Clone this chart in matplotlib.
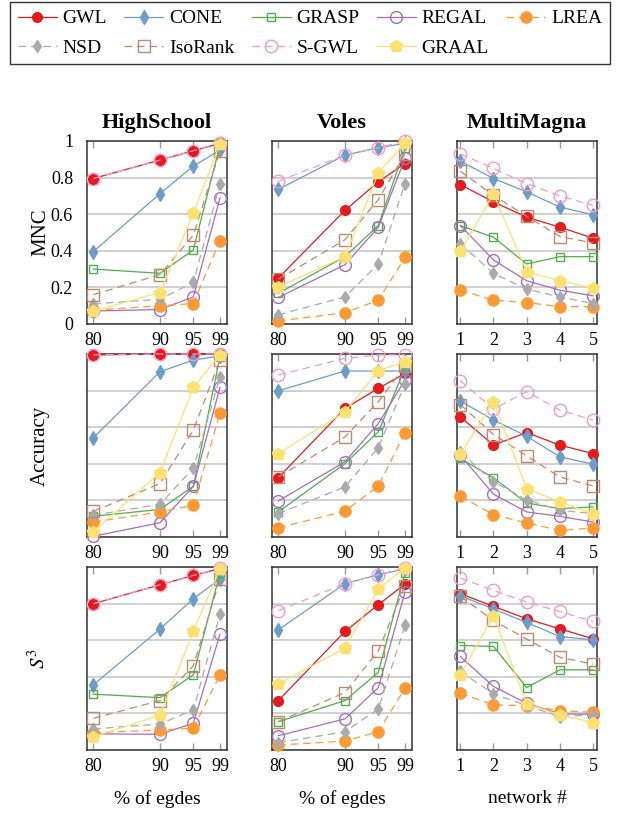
import matplotlib
matplotlib.use("Agg")
import matplotlib.pyplot as plt
import numpy as np

plt.rcParams['font.family'] = ['Liberation Serif', 'DejaVu Serif']
plt.rcParams['mathtext.fontset'] = 'stix'

methods = ['GWL', 'CONE', 'GRASP', 'REGAL', 'LREA', 'NSD', 'IsoRank', 'S-GWL', 'GRAAL']
pct_edges = [80, 90, 95, 99]
networks = [1, 2, 3, 4, 5]

# MNC
hs_mnc = {
    'GWL': [0.795, 0.896, 0.947, 0.987],
    'CONE': [0.396, 0.712, 0.863, 0.950],
    'GRASP': [0.300, 0.277, 0.405, 0.978],
    'REGAL': [0.071, 0.079, 0.148, 0.690],
    'LREA': [0.075, 0.100, 0.112, 0.456],
    'NSD': [0.110, 0.135, 0.227, 0.767],
    'IsoRank': [0.160, 0.270, 0.485, 0.947],
    'S-GWL': [0.795, 0.896, 0.947, 0.990],
    'GRAAL': [0.071, 0.172, 0.606, 0.983],
}
voles_mnc = {
    'GWL': [0.251, 0.621, 0.777, 0.877],
    'CONE': [0.736, 0.923, 0.963, 0.987],
    'GRASP': [0.168, 0.368, 0.538, 0.960],
    'REGAL': [0.145, 0.324, 0.529, 0.905],
    'LREA': [0.016, 0.062, 0.130, 0.364],
    'NSD': [0.050, 0.148, 0.328, 0.767],
    'IsoRank': [0.245, 0.460, 0.680, 0.930],
    'S-GWL': [0.780, 0.923, 0.963, 1.000],
    'GRAAL': [0.203, 0.368, 0.826, 0.987],
}
mm_mnc = {
    'GWL': [0.762, 0.667, 0.584, 0.529, 0.469],
    'CONE': [0.890, 0.795, 0.722, 0.639, 0.597],
    'GRASP': [0.538, 0.474, 0.328, 0.368, 0.368],
    'REGAL': [0.538, 0.350, 0.236, 0.185, 0.154],
    'LREA': [0.185, 0.130, 0.117, 0.095, 0.095],
    'NSD': [0.438, 0.277, 0.190, 0.148, 0.112],
    'IsoRank': [0.835, 0.703, 0.588, 0.478, 0.443],
    'S-GWL': [0.929, 0.850, 0.767, 0.700, 0.648],
    'GRAAL': [0.397, 0.712, 0.286, 0.236, 0.196],
}

# Accuracy
hs_acc = {
    'GWL': [0.995, 1.000, 1.000, 1.000],
    'CONE': [0.542, 0.903, 0.967, 0.989],
    'GRASP': [0.113, 0.151, 0.277, 0.985],
    'REGAL': [0.004, 0.078, 0.277, 0.818],
    'LREA': [0.082, 0.137, 0.173, 0.679],
    'NSD': [0.119, 0.179, 0.376, 0.872],
    'IsoRank': [0.140, 0.292, 0.584, 0.967],
    'S-GWL': [0.995, 1.000, 1.000, 1.000],
    'GRAAL': [0.027, 0.352, 0.818, 0.995],
}
voles_acc = {
    'GWL': [0.325, 0.703, 0.812, 0.894],
    'CONE': [0.799, 0.907, 0.907, 0.907],
    'GRASP': [0.137, 0.401, 0.575, 0.922],
    'REGAL': [0.197, 0.411, 0.620, 0.858],
    'LREA': [0.051, 0.141, 0.279, 0.569],
    'NSD': [0.128, 0.274, 0.489, 0.836],
    'IsoRank': [0.328, 0.547, 0.739, 0.934],
    'S-GWL': [0.885, 0.976, 0.995, 0.995],
    'GRAAL': [0.456, 0.684, 0.909, 0.958],
}
mm_acc = {
    'GWL': [0.657, 0.502, 0.571, 0.502, 0.456],
    'CONE': [0.743, 0.639, 0.551, 0.438, 0.398],
    'GRASP': [0.429, 0.323, 0.186, 0.155, 0.164],
    'REGAL': [0.447, 0.234, 0.137, 0.113, 0.082],
    'LREA': [0.223, 0.122, 0.077, 0.036, 0.049],
    'NSD': [0.465, 0.301, 0.204, 0.146, 0.128],
    'IsoRank': [0.724, 0.560, 0.443, 0.328, 0.279],
    'S-GWL': [0.854, 0.699, 0.794, 0.693, 0.639],
    'GRAAL': [0.453, 0.739, 0.265, 0.192, 0.128],
}

# S^3
hs_s3 = {
    'GWL': [0.799, 0.903, 0.954, 0.991],
    'CONE': [0.356, 0.661, 0.827, 0.934],
    'GRASP': [0.305, 0.286, 0.411, 0.967],
    'REGAL': [0.088, 0.086, 0.146, 0.633],
    'LREA': [0.095, 0.109, 0.119, 0.411],
    'NSD': [0.115, 0.142, 0.219, 0.743],
    'IsoRank': [0.173, 0.270, 0.460, 0.934],
    'S-GWL': [0.799, 0.903, 0.954, 0.993],
    'GRAAL': [0.073, 0.190, 0.648, 0.989],
}
voles_s3 = {
    'GWL': [0.270, 0.648, 0.794, 0.907],
    'CONE': [0.657, 0.909, 0.958, 0.989],
    'GRASP': [0.155, 0.270, 0.425, 0.967],
    'REGAL': [0.078, 0.170, 0.341, 0.863],
    'LREA': [0.027, 0.049, 0.100, 0.338],
    'NSD': [0.040, 0.100, 0.224, 0.681],
    'IsoRank': [0.155, 0.314, 0.542, 0.898],
    'S-GWL': [0.761, 0.909, 0.958, 0.995],
    'GRAAL': [0.361, 0.557, 0.880, 0.995],
}
mm_s3 = {
    'GWL': [0.854, 0.785, 0.717, 0.662, 0.608],
    'CONE': [0.843, 0.770, 0.697, 0.620, 0.602],
    'GRASP': [0.571, 0.566, 0.341, 0.438, 0.438],
    'REGAL': [0.511, 0.347, 0.255, 0.197, 0.195],
    'LREA': [0.310, 0.246, 0.243, 0.215, 0.206],
    'NSD': [0.429, 0.307, 0.243, 0.182, 0.192],
    'IsoRank': [0.839, 0.708, 0.606, 0.507, 0.469],
    'S-GWL': [0.940, 0.872, 0.808, 0.757, 0.703],
    'GRAAL': [0.411, 0.734, 0.252, 0.192, 0.150],
}

styles = {
    'GWL':     dict(color='#e41a1c', marker='o', ms=7,   ls='-',  filled=True),
    'CONE':    dict(color='#6b9ccb', marker='d', ms=7.5, ls='-',  filled=True),
    'GRASP':   dict(color='#4daf4a', marker='s', ms=6,   ls='-',  filled=False),
    'REGAL':   dict(color='#a56cc1', marker='o', ms=8.5, ls='-',  filled=False),
    'LREA':    dict(color='#ff9933', marker='o', ms=8,   ls='--', filled=True),
    'NSD':     dict(color='#aaaaaa', marker='d', ms=6,   ls='--', filled=True),
    'IsoRank': dict(color='#c1876b', marker='s', ms=8,   ls='--', filled=False),
    'S-GWL':   dict(color='#f49ac8', marker='o', ms=9,   ls='--', filled=False),
    'GRAAL':   dict(color='#fce070', marker='p', ms=9,   ls='-',  filled=True),
}

rows = [
    ('MNC', [hs_mnc, voles_mnc, mm_mnc]),
    ('Accuracy', [hs_acc, voles_acc, mm_acc]),
    (r'$S^3$', [hs_s3, voles_s3, mm_s3]),
]
col_titles = ['HighSchool', 'Voles', 'MultiMagna']
col_x = [pct_edges, pct_edges, networks]
col_xlabels = ['% of egdes', '% of egdes', 'network #']

W, H = 619, 813
fig = plt.figure(figsize=(W / 100, H / 100), dpi=100)

lefts = [87, 272, 457]
tops = [141, 354, 567]
aw, ah = 140, 183

handles = {}
for r, (ylabel, panels) in enumerate(rows):
    for c, data in enumerate(panels):
        ax = fig.add_axes([lefts[c] / W, 1 - (tops[r] + ah) / H, aw / W, ah / H])
        x = col_x[c]
        for m in methods:
            s = styles[m]
            ln, = ax.plot(x, data[m], color=s['color'], lw=0.9, ls=s['ls'],
                          dashes=(6, 4) if s['ls'] == '--' else (None, None),
                          marker=s['marker'], ms=s['ms'], mew=1.0,
                          mec=s['color'],
                          mfc=s['color'] if s['filled'] else 'none',
                          clip_on=False, zorder=3)
            handles[m] = ln
        if c < 2:
            ax.set_xlim(79.05, 100.05)
        else:
            ax.set_xlim(0.9, 5.12)
        ax.set_xticks(x)
        ax.set_ylim(0, 1)
        ax.set_yticks([0, 0.2, 0.4, 0.6, 0.8, 1])
        ax.yaxis.grid(True, color='#c8c8c8', lw=1.2)
        ax.set_axisbelow(True)
        ax.tick_params(axis='x', direction='in', top=True, length=5,
                       color='#999999', width=1, labelsize=13, pad=6)
        ax.tick_params(axis='y', length=0, labelsize=13, pad=10)
        if c == 0 and r == 0:
            ax.set_yticklabels(['0', '0.2', '0.4', '0.6', '0.8', '1'])
        else:
            ax.set_yticklabels([])
        for sp in ax.spines.values():
            sp.set_color('#333333')
            sp.set_linewidth(1.1)
        if c == 0:
            ax.set_ylabel(ylabel, fontsize=15)
            ax.yaxis.set_label_coords(-0.265, 0.5)
        if r == 0:
            ax.set_title(col_titles[c], fontsize=16, fontweight='bold', pad=9)
        if r == 2:
            ax.set_xlabel(col_xlabels[c], fontsize=14)
            ax.xaxis.set_label_coords(0.5, -0.22)

# legend fills column by column, so interleave the two rows
order = ['GWL', 'NSD', 'CONE', 'IsoRank', 'GRASP', 'S-GWL', 'REGAL', 'GRAAL', 'LREA']
leg = fig.legend([handles[m] for m in order], order, ncol=5, loc='upper left',
                 bbox_to_anchor=(10 / W, 1 - 67 / H, 600 / W, 65 / H),
                 bbox_transform=fig.transFigure, mode='expand',
                 fontsize=14, frameon=True, fancybox=False, edgecolor='black',
                 handlelength=2.0, handletextpad=0.3, columnspacing=0.5,
                 borderpad=0.4, labelspacing=0.6, borderaxespad=0)
leg.get_frame().set_linewidth(1.0)

fig.savefig('out.png', dpi=100)
